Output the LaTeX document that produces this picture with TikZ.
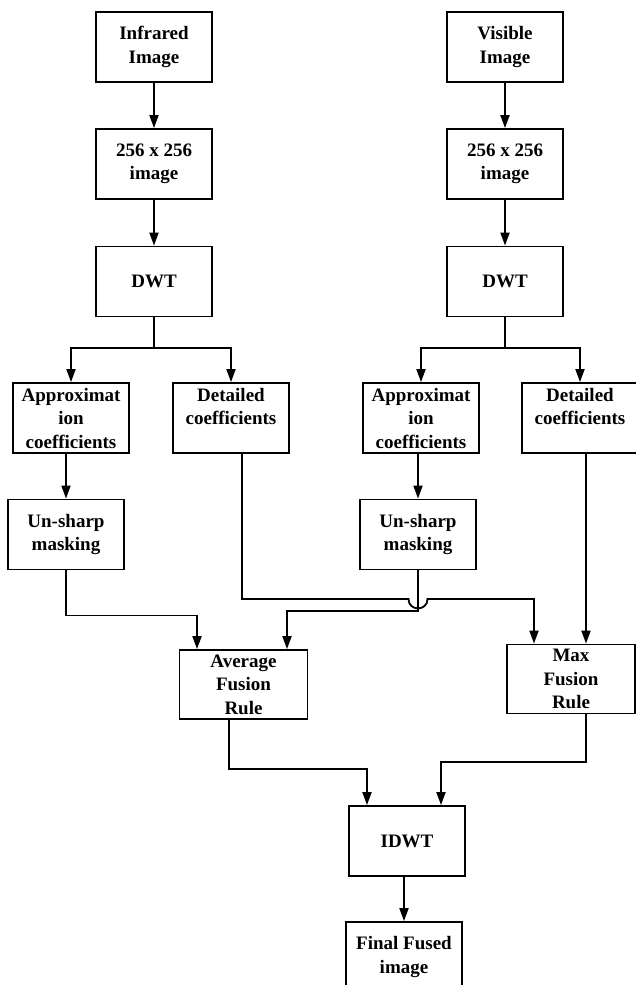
\documentclass[tikz,border=0pt]{standalone}
\usepackage{fontspec}
\setmainfont{Liberation Serif}
\usetikzlibrary{arrows.meta}
\tikzset{
  blk/.style={draw=black,line width=1.8pt,minimum width=116pt,minimum height=70pt,inner sep=0pt,align=center,
    font=\fontsize{19}{23.5}\selectfont\bfseries},
  rulebox/.style={blk,minimum width=128pt,minimum height=69pt},
  wire/.style={draw=black,line width=1.8pt},
  flow/.style={wire,-{Triangle[length=13pt,width=9pt]}},
}

\begin{document}
\begin{tikzpicture}[x=1pt,y=-1pt]
\useasboundingbox (0,0) rectangle (635,985);
% two input columns
\node[blk] (ir) at (154,47) {Infrared\\Image};
\node[blk] (vis) at (505,47) {Visible\\Image};
\node[blk] (irsz) at (154,164) {256 x 256\\image};
\node[blk] (vissz) at (505,164) {256 x 256\\image};
\node[blk] (irdwt) at (154,281.5) {DWT};
\node[blk] (visdwt) at (505,281.5) {DWT};
\node[blk] (irap) at (71,418) {Approximat\\ion\\coefficients};
\node[blk] (irdet) at (231,418) {Detailed\\coefficients\\~};
\node[blk] (visap) at (421,418) {Approximat\\ion\\coefficients};
\node[blk] (visdet) at (580,418) {Detailed\\coefficients\\~};
\node[blk] (irus) at (66,534.5) {Un-sharp\\masking};
\node[blk] (visus) at (418,534.5) {Un-sharp\\masking};
% fusion
\node[rulebox] (avg) at (243.5,684.5) {Average\\Fusion\\Rule};
\node[rulebox] (max) at (571,679) {Max\\Fusion\\Rule};
\node[blk] (idwt) at (407,841) {IDWT};
\node[blk] (fin) at (404,957) {Final Fused\\image};
\coordinate (irsplit) at (154,348);
\coordinate (vissplit) at (505,348);
\coordinate (hopl) at (408.5,599);
\coordinate (hopr) at (427.5,599);

\draw[flow] (ir) -- (irsz);
\draw[flow] (irsz) -- (irdwt);
\draw[flow] (vis) -- (vissz);
\draw[flow] (vissz) -- (visdwt);
\draw[wire] (irdwt.south) -- (irsplit);
\draw[flow] (irsplit) -| (irap.north);
\draw[flow] (irsplit) -| (irdet.north);
\draw[wire] (visdwt.south) -- (vissplit);
\draw[flow] (vissplit) -| (visap.north);
\draw[flow] (vissplit) -| (visdet.north);
\draw[flow] (irap.south -| irus.north) -- (irus.north);
\draw[flow] (visap.south -| visus.north) -- (visus.north);
\draw[flow] (irus.south) -- ++(0,45) -| ([xshift=-46.5pt]avg.north);
\draw[flow] (visus.south) -- ++(0,40.5) -| ([xshift=43.5pt]avg.north);
\draw[flow] ([xshift=11pt]irdet.south) |- (hopl) .. controls (408.5,611.5) and (427.5,611.5) .. (hopr)
  -| ([xshift=-37pt]max.north);
\draw[flow] ([xshift=6pt]visdet.south) -- ([xshift=6pt]visdet.south |- max.north);
\draw[flow] ([xshift=-14.5pt]avg.south) -- ++(0,49) -| ([xshift=-40pt]idwt.north);
\draw[flow] ([xshift=15pt]max.south) -- ++(0,47.5) -| ([xshift=34pt]idwt.north);
\draw[flow] (idwt.south -| fin.north) -- (fin.north);
\end{tikzpicture}
\end{document}
